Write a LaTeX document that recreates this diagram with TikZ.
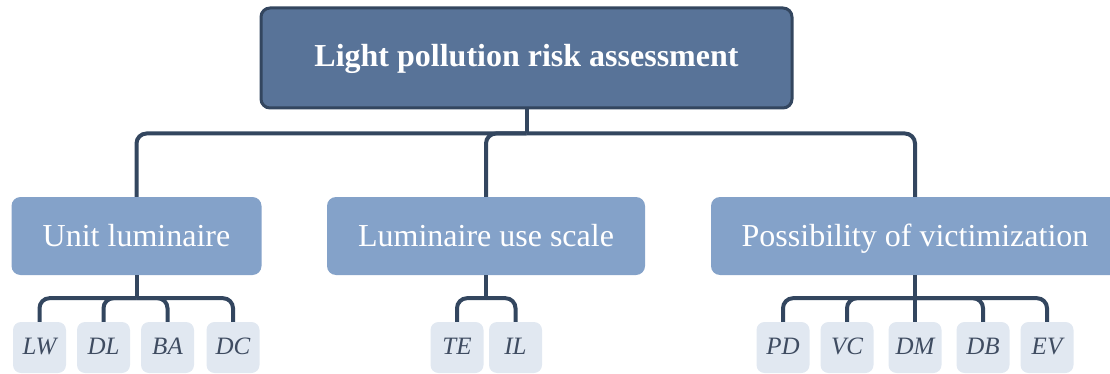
\documentclass[tikz,border=0pt]{standalone}
\usepackage{fontspec}
\setmainfont{Liberation Serif}
\definecolor{rootblue}{HTML}{587398}
\definecolor{groupblue}{HTML}{84A2C9}
\definecolor{leafblue}{HTML}{E1E8F1}
\definecolor{lineblue}{HTML}{33465F}
\definecolor{leaftext}{HTML}{3F4C61}
\tikzstyle{root}=[draw=lineblue,line width=3pt,fill=rootblue,rounded corners=9pt,text=white,
    minimum width=531pt,minimum height=100pt,font=\fontsize{32}{38}\selectfont\bfseries,
    text height=22pt,text depth=4pt]
\tikzstyle{group}=[fill=groupblue,rounded corners=9pt,text=white,minimum height=78pt,
    font=\fontsize{32}{38}\selectfont,text height=24pt,text depth=4pt]
\tikzstyle{leaf}=[fill=leafblue,rounded corners=8pt,text=leaftext,minimum width=53pt,
    minimum height=51pt,font=\fontsize{25}{30}\selectfont\itshape,
    text height=17pt,text depth=4pt]
\tikzstyle{edge}=[draw,line width=4pt,lineblue,rounded corners=10pt]

\begin{document}
\begin{tikzpicture}[x=1pt,y=-1pt]
    \clip (0,0) rectangle (1110,374);
    \node[root] (root) at (526.5,58) {Light pollution risk assessment};
    \foreach \pos/\name/\w/\txt in {{(136.5,236)/ul/250/Unit luminaire},
                                  {(486,236)/lus/318/Luminaire use scale},
                                  {(915,236)/pv/408/Possibility of victimization}}
        \node[group,minimum width=\w pt] (\name) at \pos {\txt};
    \foreach \x/\name in {39.5/LW, 103.5/DL, 167.5/BA, 233/DC, 457/TE, 515.5/IL,
                          783/PD, 847/VC, 915/DM, 983/DB, 1047/EV}
        \node[leaf] (\name) at (\x,347.5) {\name};

    \path[edge] (root.south) -- ++(0,24) coordinate (rootbus);
    \foreach \dest in {ul, lus, pv}
        \path[edge] (rootbus) -| (\dest.north);

    \foreach \source/\leaves in {ul/{LW,DL,BA,DC}, lus/{TE,IL}, pv/{PD,VC,DM,DB,EV}} {
        \path[edge] (\source.south) -- ++(0,23) coordinate (\source bus);
        \foreach \dest in \leaves
            \path[edge] (\source bus) -| (\dest.north);
    }
\end{tikzpicture}
\end{document}
